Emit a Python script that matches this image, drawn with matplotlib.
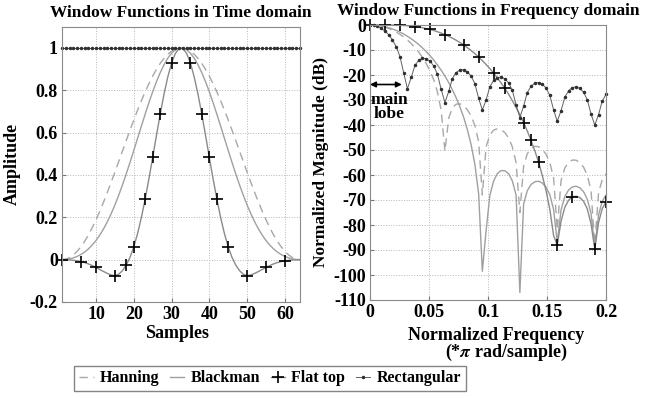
import numpy as np
import matplotlib.pyplot as plt

# ---- time domain: 64-point windows ----
samples = np.arange(1, 65)

hann_time = [0.0000, 0.0025, 0.0099, 0.0222, 0.0393, 0.0609, 0.0869, 0.1170, 0.1509, 0.1883,
             0.2287, 0.2719, 0.3173, 0.3646, 0.4132, 0.4626, 0.5125, 0.5622, 0.6113, 0.6593,
             0.7057, 0.7500, 0.7919, 0.8308, 0.8665, 0.8985, 0.9266, 0.9505, 0.9698, 0.9845,
             0.9944, 0.9994, 0.9994, 0.9944, 0.9845, 0.9698, 0.9505, 0.9266, 0.8985, 0.8665,
             0.8308, 0.7919, 0.7500, 0.7057, 0.6593, 0.6113, 0.5622, 0.5125, 0.4626, 0.4132,
             0.3646, 0.3173, 0.2719, 0.2287, 0.1883, 0.1509, 0.1170, 0.0869, 0.0609, 0.0393,
             0.0222, 0.0099, 0.0025, 0.0000]

black_time = [0.0000, 0.0009, 0.0036, 0.0083, 0.0151, 0.0243, 0.0361, 0.0509, 0.0689, 0.0905,
              0.1158, 0.1452, 0.1787, 0.2163, 0.2580, 0.3035, 0.3526, 0.4046, 0.4592, 0.5155,
              0.5727, 0.6300, 0.6864, 0.7409, 0.7925, 0.8402, 0.8831, 0.9204, 0.9511, 0.9748,
              0.9909, 0.9990, 0.9990, 0.9909, 0.9748, 0.9511, 0.9204, 0.8831, 0.8402, 0.7925,
              0.7409, 0.6864, 0.6300, 0.5727, 0.5155, 0.4592, 0.4046, 0.3526, 0.3035, 0.2580,
              0.2163, 0.1787, 0.1452, 0.1158, 0.0905, 0.0689, 0.0509, 0.0361, 0.0243, 0.0151,
              0.0083, 0.0036, 0.0009, 0.0000]

flat_time = [-0.0004, -0.0007, -0.0015, -0.0030, -0.0055, -0.0090, -0.0139, -0.0202, -0.0279, -0.0368,
             -0.0465, -0.0560, -0.0650, -0.0725, -0.0760, -0.0690, -0.0520, -0.0257, 0.0107, 0.0601,
             0.1228, 0.1982, 0.2851, 0.3810, 0.4827, 0.5863, 0.6873, 0.7809, 0.8625, 0.9279,
             0.9735, 0.9970, 0.9970, 0.9735, 0.9279, 0.8625, 0.7809, 0.6873, 0.5863, 0.4827,
             0.3810, 0.2851, 0.1982, 0.1228, 0.0601, 0.0107, -0.0257, -0.0520, -0.0690, -0.0760,
             -0.0725, -0.0650, -0.0560, -0.0465, -0.0368, -0.0279, -0.0202, -0.0139, -0.0090, -0.0055,
             -0.0030, -0.0015, -0.0007, -0.0004]

rect_time = [1.0] * 64

flat_time_marks = [0, 5, 9, 14, 17, 19, 22, 24, 26, 29, 34, 37, 39, 41, 44, 49, 54, 59]

# ---- frequency domain (normalized freq, dB) ----
freq = [0.0000, 0.0032, 0.0063, 0.0095, 0.0127, 0.0159, 0.0190, 0.0222, 0.0254, 0.0286,
        0.0317, 0.0349, 0.0381, 0.0413, 0.0444, 0.0476, 0.0508, 0.0540, 0.0571, 0.0603,
        0.0635, 0.0667, 0.0698, 0.0730, 0.0762, 0.0794, 0.0825, 0.0857, 0.0889, 0.0921,
        0.0952, 0.0984, 0.1016, 0.1048, 0.1079, 0.1111, 0.1143, 0.1175, 0.1206, 0.1238,
        0.1270, 0.1302, 0.1333, 0.1365, 0.1397, 0.1429, 0.1460, 0.1492, 0.1524, 0.1556,
        0.1587, 0.1619, 0.1651, 0.1683, 0.1714, 0.1746, 0.1778, 0.1810, 0.1841, 0.1873,
        0.1905, 0.1937, 0.1968, 0.2000]

rect_db = [0.00, -0.14, -0.58, -1.33, -2.42, -3.92, -5.94, -8.69, -12.62, -19.23,
           -25.5, -20.97, -16.14, -14.06, -13.30, -13.47, -14.46, -16.39, -19.66, -25.72,
           -31.0, -26.59, -21.41, -19.02, -17.98, -17.90, -18.68, -20.41, -23.50, -29.39,
           -34.0, -29.97, -24.66, -22.15, -21.01, -20.82, -21.51, -23.15, -26.15, -31.97,
           -37.0, -32.40, -27.02, -24.45, -23.25, -23.01, -23.63, -25.23, -28.18, -33.95,
           -38.5, -34.29, -28.88, -26.27, -25.03, -24.75, -25.34, -26.90, -29.83, -35.56,
           -40.0, -35.85, -30.41, -27.77]

hann_db = [0.00, -0.06, -0.22, -0.51, -0.91, -1.42, -2.06, -2.84, -3.75, -4.80,
           -6.02, -7.41, -9.02, -10.84, -12.95, -15.41, -18.32, -21.92, -26.68, -34.05,
           -50.5, -37.25, -33.10, -31.67, -31.53, -32.30, -33.89, -36.38, -40.21, -46.79,
           -68.0, -48.67, -43.98, -42.05, -41.48, -41.84, -43.06, -45.22, -48.73, -55.01,
           -75.0, -56.38, -51.45, -49.31, -48.53, -48.70, -49.72, -51.71, -55.05, -61.19,
           -82.0, -62.25, -57.19, -54.93, -54.02, -54.07, -54.99, -56.86, -60.10, -66.14,
           -88.0, -67.03, -61.88, -59.52]

black_db = [0.00, -0.04, -0.17, -0.40, -0.70, -1.10, -1.59, -2.18, -2.85, -3.63,
            -4.51, -5.49, -6.60, -7.80, -9.14, -10.62, -12.23, -14.00, -15.95, -18.08,
            -20.42, -23.02, -25.89, -29.11, -32.74, -36.93, -41.86, -47.88, -55.77, -67.73,
            -98.5, -82.17, -68.10, -62.33, -59.46, -58.23, -58.28, -59.52, -62.30, -67.98,
            -107.0, -71.5, -66.3, -63.8, -62.7, -62.5, -63.2, -64.9, -67.9, -73.8,
            -87.0, -74.0, -68.6, -66.0, -64.8, -64.5, -65.1, -66.7, -69.6, -75.3,
            -89.0, -76.0, -70.5, -68.0]

flat_db = [0.00, 0.00, 0.00, 0.00, 0.00, -0.01, -0.03, -0.06, -0.12, -0.19,
           -0.30, -0.44, -0.61, -0.83, -1.09, -1.41, -1.77, -2.20, -2.68, -3.22,
           -3.84, -4.52, -5.27, -6.10, -7.00, -7.99, -9.06, -10.21, -11.46, -12.81,
           -14.25, -15.80, -17.46, -19.25, -21.15, -23.19, -25.38, -27.72, -30.24, -32.94,
           -35.86, -39.01, -42.43, -46.18, -50.31, -54.92, -60.15, -66.27, -73.77, -84.27,
           -88.0, -78.5, -72.9, -70.1, -68.7, -68.5, -69.0, -70.5, -73.5, -79.5,
           -89.6, -79.0, -73.5, -70.7]

flat_freq_marks = [0, 4, 8, 12, 16, 20, 25, 29, 33, 36, 41, 43, 45, 50, 54, 60, 63]

labels = ['Hanning', 'Blackman', 'Flat top', 'Rectangular']

plt.rcParams['font.family'] = 'Liberation Serif'
plt.rcParams['font.weight'] = 'bold'
plt.rcParams['mathtext.fontset'] = 'stix'
plt.rcParams['axes.unicode_minus'] = False

W, H = 646, 398
fig = plt.figure(figsize=(W / 100, H / 100), dpi=100)
ax1 = fig.add_axes([62 / W, 1 - 302 / H, 238 / W, 275.3 / H])
ax2 = fig.add_axes([370 / W, 1 - 300 / H, 236 / W, 275 / H])

hann_style = dict(color='#a8a8a8', lw=1.0, ls=(0, (6, 4)))
black_style = dict(color='#a0a0a0', lw=1.0, ls='-')
flat_style = dict(color='#8a8a8a', lw=1.0, ls='-', marker='+', ms=8, mew=1.2,
                  mec='black', clip_on=False)
rect_style = dict(color='#606060', lw=0.7, ls='-', marker='.', ms=3,
                  mec='#303030', mfc='#303030', clip_on=False)

h1, = ax1.plot(samples, hann_time, **hann_style)
h2, = ax1.plot(samples, black_time, **black_style)
h3, = ax1.plot(samples, flat_time, markevery=flat_time_marks, **flat_style)
h4, = ax1.plot(samples, rect_time, **rect_style)

ax2.plot(freq, hann_db, **hann_style)
ax2.plot(freq, black_db, **black_style)
ax2.plot(freq, flat_db, markevery=flat_freq_marks, **flat_style)
ax2.plot(freq, rect_db, **rect_style)

fs = 13
for ax in (ax1, ax2):
    ax.grid(True, ls=':', color='#b5b5b5', lw=0.7)
    ax.tick_params(direction='in', length=3, labelsize=fs, color='#777777', pad=3)
    for s in ax.spines.values():
        s.set_color('#8a8a8a')

ax1.set_xlim(1, 64)
ax1.set_ylim(-0.2, 1.1)
ax1.set_xticks([10, 20, 30, 40, 50, 60])
ax1.set_yticks([-0.2, 0, 0.2, 0.4, 0.6, 0.8, 1.0])
ax1.set_yticklabels(['-0.2', '0', '0.2', '0.4', '0.6', '0.8', '1'])
ax1.set_title('Window Functions in Time domain', fontsize=12.5, fontweight='bold', pad=7)

ax2.set_xlim(0, 0.2)
ax2.set_ylim(-110, 0)
ax2.set_xticks([0, 0.05, 0.1, 0.15, 0.2])
ax2.set_xticklabels(['0', '0.05', '0.1', '0.15', '0.2'])
ax2.set_yticks(list(range(0, -111, -10)))
ax2.set_yticklabels([str(v) for v in range(0, -111, -10)])
ax2.set_title('Window Functions in Frequency domain', fontsize=12.5, fontweight='bold', pad=7)

ax2.annotate('', xy=(0.0, -23.8), xytext=(0.027, -23.8),
             arrowprops=dict(arrowstyle='<|-|>', color='black', lw=1.2,
                             mutation_scale=8, shrinkA=0, shrinkB=0))
ax2.text(0.0165, -32.8, 'main\nlobe', ha='center', va='center', fontsize=12.5,
         linespacing=0.85)

fig.text(12 / W, 1 - 164 / H, 'Amplitude', rotation=90, ha='center', va='center', fontsize=fs)
fig.text(177 / W, 1 - 333 / H, 'Samples', ha='center', va='center', fontsize=fs)
fig.text(321 / W, 1 - 162 / H, 'Normalized Magnitude (dB)', rotation=90,
         ha='center', va='center', fontsize=12.5)
fig.text(496 / W, 1 - 335 / H, 'Normalized Frequency', ha='center', va='center', fontsize=fs)
fig.text(506 / W, 1 - 352 / H, r'(*$\pi$ rad/sample)', ha='center', va='center', fontsize=fs)

leg = fig.legend([h1, h2, h3, h4], labels, ncol=4, loc='center',
                 bbox_to_anchor=(270 / W, 1 - 378.5 / H), fontsize=11.5,
                 frameon=True, fancybox=False, edgecolor='#666666',
                 handlelength=0.9, handletextpad=0.4, columnspacing=0.65,
                 borderpad=0.3, numpoints=1)
leg.get_frame().set_linewidth(1.0)

fig.savefig('out.png', dpi=100)
